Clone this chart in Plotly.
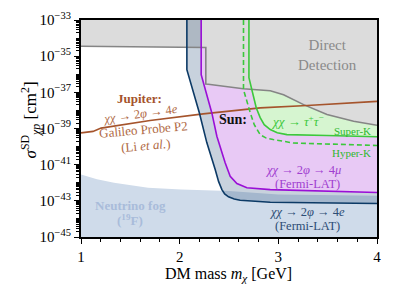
import plotly.graph_objects as go

# ---------------- data ----------------
dd_mass = [1.0, 2.265, 2.265, 2.29, 2.644, 2.918, 3.053, 3.256, 3.493, 3.763, 4.0]
dd_sigma = [3.55e-35, 3.0e-35, 2.88e-37, 2.8e-37, 1.58e-37, 1.23e-37, 7.41e-38, 2.09e-38, 5.89e-39, 2.51e-39, 1.51e-39]

fog_mass = [1.0, 1.162, 1.335, 1.680, 2.015, 2.5, 3.0, 4.0]
fog_sigma = [2.82e-42, 1.58e-42, 1.0e-42, 5.25e-43, 4.17e-43, 3.55e-43, 2.24e-43, 1.9e-43]

e4_mass = [2.073, 2.073, 2.200, 2.275, 2.360, 2.395, 2.428, 2.456, 2.495, 2.553, 2.613, 2.918, 3.557, 4.0]
e4_sigma = [1e-33, 1.78e-36, 7.24e-39, 1.66e-40, 5.37e-42, 1.15e-42, 4.17e-43, 2.4e-43, 1.66e-43, 1.26e-43, 1.07e-43, 8.32e-44, 7.59e-44, 7.08e-44]

mu4_mass = [2.218, 2.218, 2.326, 2.377, 2.461, 2.512, 2.580, 2.681, 2.918, 4.0]
mu4_sigma = [1e-33, 9.55e-37, 7.24e-39, 3.72e-40, 1.26e-41, 2.29e-42, 9.12e-43, 5.25e-43, 4.17e-43, 2.88e-43]

superk_mass = [2.702, 2.702, 2.776, 2.816, 2.857, 2.918, 2.989, 3.087, 3.493, 4.0]
superk_sigma = [1e-33, 6.46e-37, 1.41e-38, 3.98e-39, 1.62e-39, 8.71e-40, 5.89e-40, 4.57e-40, 4.07e-40, 3.47e-40]

hyperk_mass = [2.647, 2.647, 2.715, 2.756, 2.816, 2.878, 2.948, 3.151, 4.0]
hyperk_sigma = [1e-33, 1.41e-37, 7.59e-39, 1.62e-39, 4.57e-40, 2.95e-40, 2.45e-40, 1.58e-40, 1.15e-40]

jup_mass = [1.0, 1.122, 1.203, 1.700, 2.238, 2.816, 3.293, 4.0]
jup_sigma = [5.75e-40, 6.92e-40, 1.05e-39, 2.75e-39, 6.46e-39, 1.38e-38, 1.86e-38, 3.16e-38]

x_ticks = [1, 2, 3, 4]
y_exps = [-45, -43, -41, -39, -37, -35, -33]

X_MIN, X_MAX = 1.0, 4.0
Y_MIN, Y_MAX = 1e-45, 1e-33

# ---------------- styles ----------------
FONT = "Liberation Serif"
C_DD_FILL = "#dcdcdc"
C_DD_LINE = "#858585"
C_FOG = "#cfdbea"
C_PURPLE = "#9a0fd6"
C_PURPLE_FILL = "#e8c9f5"
C_GREEN = "#3cc83c"
C_GREEN_FILL = "#d6f5d0"
C_BLUE = "#0c3a66"
C_BLUE_BAND = "rgba(35,75,120,0.25)"
C_BROWN = "#a5542c"

fig = go.Figure()

def poly(xs, ys, color):
    fig.add_trace(go.Scatter(x=xs, y=ys, fill="toself", fillcolor=color,
                             mode="none", hoverinfo="skip", showlegend=False))

def line(xs, ys, color, dash="solid", width=1.6):
    fig.add_trace(go.Scatter(x=xs, y=ys, mode="lines",
                             line=dict(color=color, width=width, dash=dash),
                             hoverinfo="skip", showlegend=False))

# fills
poly(fog_mass + [X_MAX, X_MIN], fog_sigma + [Y_MIN, Y_MIN], C_FOG)
poly(mu4_mass + [X_MAX], mu4_sigma + [Y_MAX], C_PURPLE_FILL)
poly(superk_mass + [X_MAX], superk_sigma + [Y_MAX], C_GREEN_FILL)
poly(dd_mass + [X_MAX, X_MIN], dd_sigma + [Y_MAX, Y_MAX], C_DD_FILL)
poly(e4_mass + mu4_mass[::-1], e4_sigma + mu4_sigma[::-1], C_BLUE_BAND)

# lines
line(dd_mass, dd_sigma, C_DD_LINE)
line(jup_mass, jup_sigma, C_BROWN)
line(e4_mass, e4_sigma, C_BLUE)
line(mu4_mass, mu4_sigma, C_PURPLE)
line(superk_mass, superk_sigma, C_GREEN)
line(hyperk_mass, hyperk_sigma, C_GREEN, dash="5px,3px")

# minor ticks on log axis
y_minor = []
for e in range(-45, -33):
    for k in range(1, 10):
        v = k * 10.0 ** e
        if not (k == 1 and e in y_exps):
            y_minor.append(v)

def ann(x, y, text, color, size=12, angle=0, bold=False):
    if bold:
        text = "<b>" + text + "</b>"
    fig.add_annotation(x=x, y=y, xref="x", yref="y", text=text, showarrow=False,
                       textangle=angle, font=dict(family=FONT, size=size, color=color),
                       xanchor="center", yanchor="middle")

ann(3.494, -34.93, "Direct<br>Detection", "#8a8a8a", size=15)
ann(1.589, -37.32, "Jupiter:", C_BROWN, size=13, bold=True)
ann(1.60, -38.18, "<i>χχ</i> → 2<i>φ</i> → 4<i>e</i>", "#b06a45", size=12.5, angle=-8)
ann(1.63, -39.06, "Galileo Probe P2", "#b06a45", size=13, angle=-5)
ann(1.65, -39.94, "(Li <i>et al.</i>)", "#b06a45", size=13, angle=-5)
ann(2.543, -38.51, "Sun:", "#111111", size=14, bold=True)
ann(3.19, -38.56, "<i>χχ</i> → <i>τ</i><sup>+</sup><i>τ</i><sup>−</sup>", C_GREEN, size=13)
ann(3.75, -39.15, "Super-K", "#2fb82f", size=11)
ann(3.74, -40.37, "Hyper-K", "#2fb82f", size=11)
ann(3.253, -41.30, "<i>χχ</i> → 2<i>φ</i> → 4<i>μ</i>", "#a040d0", size=12.5)
ann(3.294, -42.07, "(Fermi-LAT)", "#a040d0", size=12.5)
ann(3.294, -43.64, "<i>χχ</i> → 2<i>φ</i> → 4<i>e</i>", "#2d4d75", size=12.5)
ann(3.294, -44.40, "(Fermi-LAT)", "#2d4d75", size=12.5)
ann(1.497, -43.26, "Neutrino fog", "#a9bcda", size=13, bold=True)
ann(1.497, -44.06, "(<sup>19</sup>F)", "#a9bcda", size=13, bold=True)

# axis titles
fig.add_annotation(xref="paper", yref="paper", x=0.497, y=-0.172,
                   text="DM mass <i>m<sub>χ</sub></i> [GeV]", showarrow=False,
                   font=dict(family=FONT, size=16, color="black"),
                   xanchor="center", yanchor="middle")
fig.add_annotation(xref="paper", yref="paper", x=-0.17, y=0.54,
                   text="<i>σ</i><sup>SD</sup><sub><i>χp</i></sub> [cm<sup>2</sup>]", showarrow=False,
                   textangle=-90, font=dict(family=FONT, size=17, color="black"),
                   xanchor="center", yanchor="middle")

# the page adds an 8px body margin, so the margins are compensated
fig.update_layout(
    width=396, height=297,
    margin=dict(l=73, r=27, t=12, b=68),
    paper_bgcolor="white", plot_bgcolor="white",
    font=dict(family=FONT, size=14, color="black"),
    showlegend=False,
)
fig.update_xaxes(range=[X_MIN, X_MAX], tickvals=x_ticks, ticktext=[str(v) for v in x_ticks],
                 ticks="outside", ticklen=5, tickwidth=1.2, tickcolor="black",
                 showline=True, linewidth=2, linecolor="black", mirror=True,
                 showgrid=False, zeroline=False, automargin=False,
                 minor=dict(tickmode="linear", tick0=1, dtick=0.2, ticks="outside",
                            ticklen=3, tickwidth=1, tickcolor="black", showgrid=False),
                 tickfont=dict(family=FONT, size=15))
fig.update_yaxes(type="log", range=[-45, -33],
                 tickvals=[10.0 ** e for e in y_exps],
                 ticktext=["10<sup>−%d</sup>" % (-e) for e in y_exps],
                 ticks="outside", ticklen=5, tickwidth=1.2, tickcolor="black",
                 showline=True, linewidth=2, linecolor="black", mirror=True,
                 showgrid=False, zeroline=False, automargin=False,
                 minor=dict(tickmode="array", tickvals=y_minor, ticks="outside",
                            ticklen=3, tickwidth=1, tickcolor="black", showgrid=False),
                 tickfont=dict(family=FONT, size=15))

fig.write_html("out.html")
